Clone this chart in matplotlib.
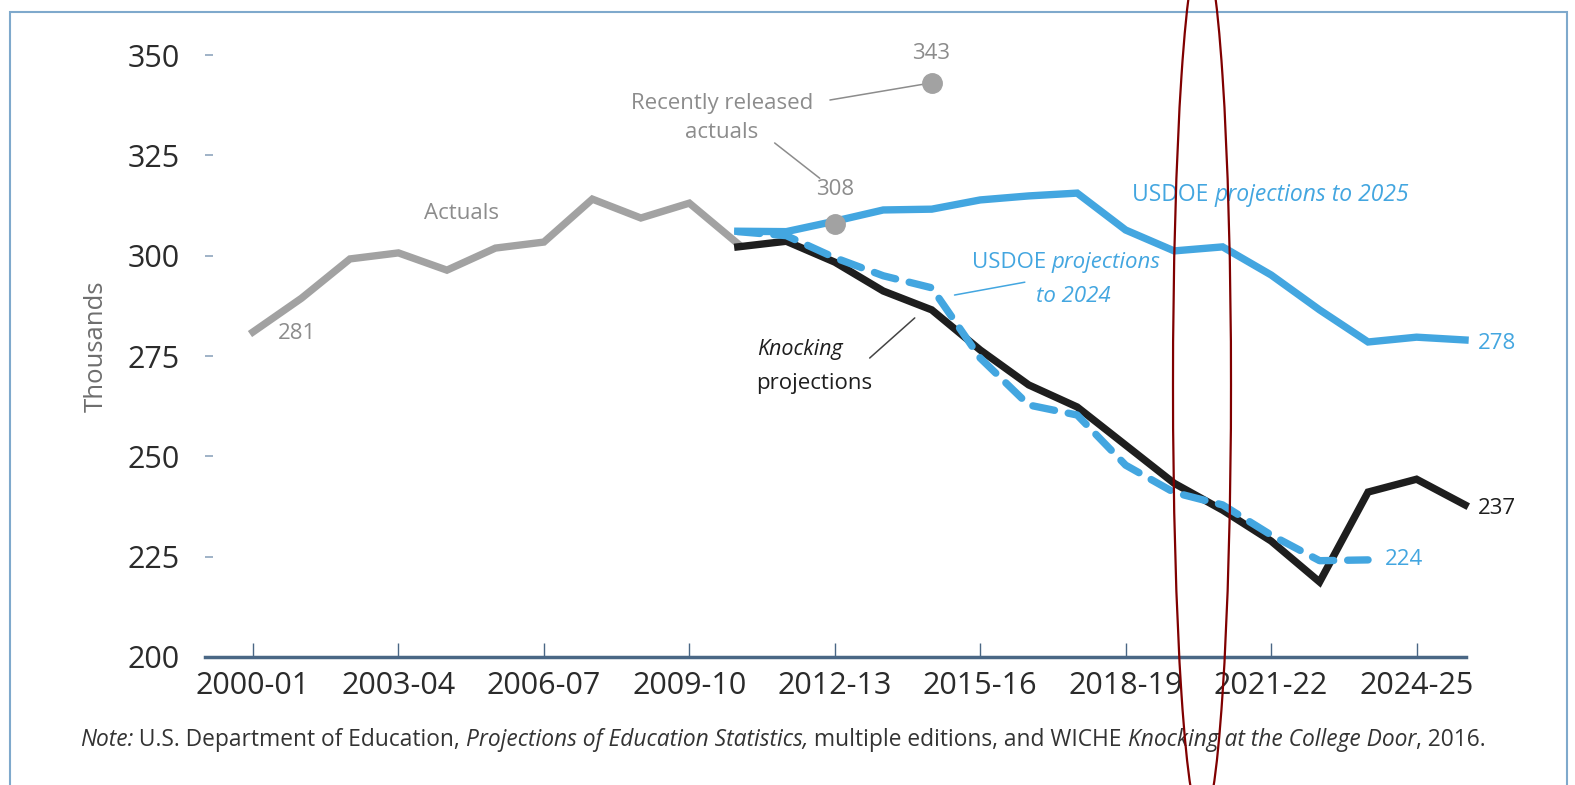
import matplotlib
matplotlib.use("Agg")
import matplotlib.pyplot as plt
from matplotlib.patches import Ellipse, Rectangle

# =========================
# DATOS
# =========================
years = [f"{y}-{str(y + 1)[-2:]}" for y in range(2000, 2026)]
tick_years = years[0:25:3]

actuals = [281, 289.4, 299.2, 300.7, 296.4, 301.9, 303.4, 314.1, 309.4, 313.1, 303]
knocking = [302.2, 303.6, 298.4, 291.2, 286.5, 276.5, 267.8, 262.3, 252.8, 243.3,
            236.6, 228.9, 218.7, 241.1, 244.3, 237.9]
usdoe_2024 = [306, 305, 299.5, 295, 292, 274.5, 262.8, 260.3, 247.8, 241,
              237.9, 230.4, 224, 224.2]
usdoe_2025 = [306.1, 306, 308.6, 311.4, 311.6, 313.9, 314.9, 315.6, 306.4, 301.2,
              302.2, 295.2, 286.5, 278.5, 279.7, 279]
recent_idx = [12, 14]
recent_vals = [308, 343]

GRAY = "#a2a2a2"
GRAY_TXT = "#8c8c8c"
BLUE = "#43a6e0"
BLACK = "#1e1e1e"
FONT = ["Open Sans", "DejaVu Sans"]

plt.rcParams["font.family"] = FONT

fig = plt.figure(figsize=(15.75, 7.85), dpi=100)
ax = fig.add_axes([205 / 1575, 1 - 657 / 785, (1466 - 205) / 1575, (657 - 35) / 785])

x_act = list(range(len(actuals)))
x_knock = list(range(10, 10 + len(knocking)))
x_2024 = list(range(10, 10 + len(usdoe_2024)))
x_2025 = list(range(10, 10 + len(usdoe_2025)))

ax.plot(x_2025, usdoe_2025, color=BLUE, lw=5.3, solid_joinstyle="miter", zorder=2, clip_on=False)
ax.plot(x_act, actuals, color=GRAY, lw=5.3, solid_joinstyle="miter", zorder=3, clip_on=False)
ax.plot(x_knock, knocking, color=BLACK, lw=5.3, solid_joinstyle="miter", zorder=3, clip_on=False)
ax.plot(x_2024, usdoe_2024, color=BLUE, lw=5.3, dashes=(3.0, 1.9), dash_capstyle="round",
        zorder=4, clip_on=False)
ax.plot(recent_idx, recent_vals, "o", color=GRAY, ms=14, zorder=5, clip_on=False)

ax.set_xlim(-0.99, 25.02)
ax.set_ylim(200, 355)

ax.set_xticks(range(0, 25, 3))
ax.set_xticklabels(tick_years)
ax.set_yticks(range(200, 351, 25))

for s in ["top", "right", "left"]:
    ax.spines[s].set_visible(False)
ax.spines["bottom"].set_color("#4a6785")
ax.spines["bottom"].set_linewidth(2.5)

ax.tick_params(axis="x", direction="in", length=10, width=1, color="#4a6785",
               labelsize=22, labelcolor="#2b2b2b", pad=10)
ax.tick_params(axis="y", direction="in", length=6, width=1.2, color="#8fa6bd",
               labelsize=22, labelcolor="#2b2b2b", pad=18)
ax.set_ylabel("Thousands", fontsize=18.5, color="#6e6e6e", labelpad=14)

# =========================
# ANOTACIONES
# =========================
ax.text(4.31, 310.6, "Actuals", color=GRAY_TXT, fontsize=16, ha="center", va="center")
ax.text(9.67, 334.3, "Recently released\nactuals", color=GRAY_TXT, fontsize=16,
        ha="center", va="center", linespacing=1.5)
ax.text(13.98, 350.5, "343", color=GRAY_TXT, fontsize=16, ha="center", va="center")
ax.text(12.0, 316.4, "308", color=GRAY_TXT, fontsize=16, ha="center", va="center")
ax.text(0.91, 280.7, "281", color=GRAY_TXT, fontsize=16, ha="center", va="center")

line_kw = dict(arrowstyle="-", color=GRAY_TXT, lw=1.1, shrinkA=0, shrinkB=0)
ax.annotate("", xy=(13.86, 342.8), xytext=(11.9, 338.8), arrowprops=line_kw)
ax.annotate("", xy=(11.69, 319.3), xytext=(10.76, 328.1), arrowprops=line_kw)

t = ax.text(18.14, 315.1, "USDOE ", color=BLUE, fontsize=16.5, ha="left", va="center")
ax.annotate("projections to 2025", xy=(1, 0), xycoords=t, color=BLUE, fontsize=16.5,
            style="italic", ha="left", va="bottom")

t1 = ax.text(15.65, 298.2, "USDOE ", color=BLUE, fontsize=16, ha="center", va="center")
ax.annotate("projections", xy=(1, 0), xycoords=t1, color=BLUE, fontsize=16,
            style="italic", ha="left", va="bottom")
ax.text(16.93, 289.8, "to 2024", color=BLUE, fontsize=16, style="italic",
        ha="center", va="center")
ax.annotate("", xy=(14.47, 290.2), xytext=(15.92, 293.4),
            arrowprops=dict(arrowstyle="-", color=BLUE, lw=1.1, shrinkA=0, shrinkB=0))

ax.text(11.28, 276.6, "Knocking", color=BLACK, fontsize=15.5, style="italic",
        ha="center", va="center")
ax.text(11.58, 268.1, "projections", color=BLACK, fontsize=16, ha="center", va="center")
ax.annotate("", xy=(13.65, 284.5), xytext=(12.72, 274.5),
            arrowprops=dict(arrowstyle="-", color="#444444", lw=1.1, shrinkA=0, shrinkB=0))

ax.text(25.26, 278.2, "278", color=BLUE, fontsize=16, ha="left", va="center")
ax.text(25.26, 237.0, "237", color=BLACK, fontsize=16, ha="left", va="center")
ax.text(23.34, 224.2, "224", color=BLUE, fontsize=16, ha="left", va="center")

# nota al pie, por trozos (normal / cursiva)
note_size = 16.4
prev = fig.text(80 / 1575, 1 - 740 / 785, "Note:", fontsize=note_size, style="italic",
                color="#333333", va="center")
pieces = [(" U.S. Department of Education, ", "normal"),
          ("Projections of Education Statistics,", "italic"),
          (" multiple editions, and WICHE ", "normal"),
          ("Knocking at the College Door", "italic"),
          (", 2016.", "normal")]
for txt, st in pieces:
    prev = ax.annotate(txt, xy=(1, 0), xycoords=prev, fontsize=note_size, style=st,
                       color="#333333", ha="left", va="bottom", annotation_clip=False)

# marco y elipse
fig.add_artist(Rectangle((10 / 1575, -0.05), (1567 - 10) / 1575, 1 - 12 / 785 + 0.05,
                         transform=fig.transFigure, fill=False, ec="#7fa9cc", lw=1.5))
fig.add_artist(Ellipse((12.02, 4.0), 0.58, 8.75, transform=fig.dpi_scale_trans,
                       fill=False, ec="#800000", lw=1.6, clip_on=False))

fig.savefig("out.png", dpi=100)
